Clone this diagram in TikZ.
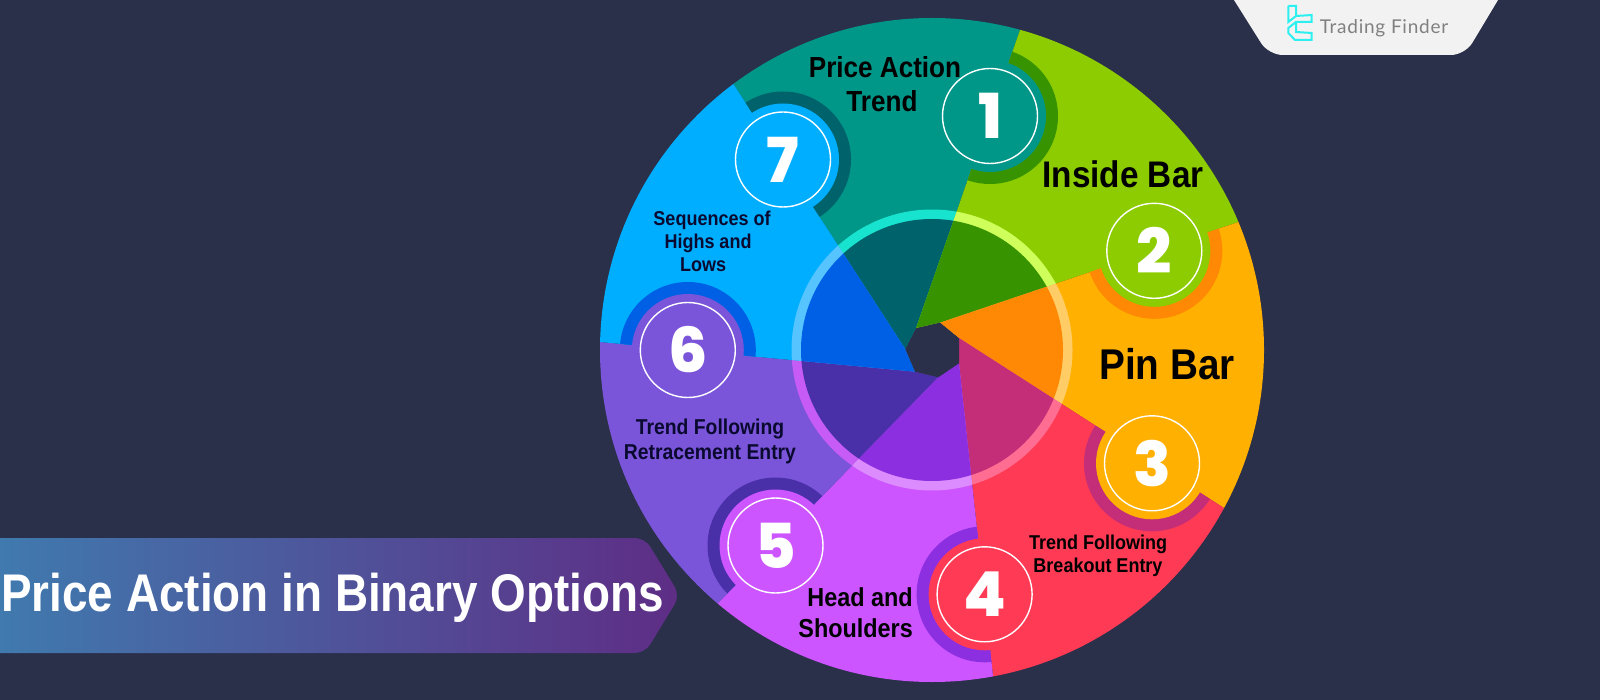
\documentclass[tikz,border=0pt]{standalone}
\usepackage{fontspec}
\setmainfont{Liberation Sans}[FakeStretch=0.9]
\newfontfamily\titlefont{Liberation Sans}[FakeStretch=0.865]
\newfontfamily\numfont{Poppins ExtraBold}
\newfontfamily\logofont{Lato}[LetterSpace=4]
\definecolor{bgc}{HTML}{2A2F4A}
\definecolor{navy}{HTML}{0A0A30}
\definecolor{cA}{HTML}{009688}\definecolor{cB}{HTML}{8CCC00}\definecolor{cC}{HTML}{FFB000}
\definecolor{cD}{HTML}{FF3A55}\definecolor{cE}{HTML}{CC55FF}\definecolor{cF}{HTML}{7B55D9}\definecolor{cG}{HTML}{00AEFF}
\definecolor{dA}{HTML}{00626B}\definecolor{dB}{HTML}{379400}\definecolor{dC}{HTML}{FF8804}
\definecolor{dD}{HTML}{C42E78}\definecolor{dE}{HTML}{8C2FE0}\definecolor{dF}{HTML}{4A30A8}\definecolor{dG}{HTML}{0060E5}
\definecolor{rA}{HTML}{17E3CE}\definecolor{rB}{HTML}{CFFF5A}\definecolor{rC}{HTML}{FFCC66}
\definecolor{rD}{HTML}{FF6E92}\definecolor{rE}{HTML}{DD8CFF}\definecolor{rF}{HTML}{C65BF5}\definecolor{rG}{HTML}{55C4FF}
\definecolor{logoc}{HTML}{2CF0F0}
\definecolor{banL}{HTML}{3F7CB0}\definecolor{banM}{HTML}{4E5498}\definecolor{banR}{HTML}{5E2D85}
\def\secA{(916,328)--(905.3,349)--(734,85)--(635,-47.5)--(1064,-130)--(1020,30)--cycle}
\def\secB{(940,322.7)--(916,328)--(1020,30)--(1064,-130)--(1392,158)--(1238.5,222)--cycle}
\def\secC{(959,338)--(940,322.7)--(1238.5,222)--(1392,158)--(1370,587)--(1224,508)--cycle}
\def\secD{(959,363)--(959,338)--(1224,508)--(1370,587)--(1023.5,839)--(993,676)--cycle}
\def\secE{(959,363)--(993,676)--(1023.5,839)--(611,729.5)--(718,603)--(938.3,377)--cycle}
\def\secF{(938.3,377)--(915,371.7)--(600,342)--(434,338)--(611,729.5)--(718,603)--cycle}
\def\secG{(915,371.7)--(905.3,349)--(734,85)--(635,-47.5)--(434,338)--(600,342)--cycle}
\newcommand{\allsecs}[1]{%
  \fill[#1A] \secA; \fill[#1B] \secB; \fill[#1C] \secC; \fill[#1D] \secD;
  \fill[#1E] \secE; \fill[#1F] \secF; \fill[#1G] \secG;}
% position, number, own colour, neighbour sector, arc colour, name
\newcommand{\badge}[6]{%
  \begin{scope}\clip #4; \fill[#5] #1 circle[radius=68]; \end{scope}
  \fill[#3] #1 circle[radius=56];
  \node[numbox,text=white] (#6) at #1 {\raisebox{-4pt}{#2}};}
\tikzset{
  numbox/.style={circle,draw=white,line width=1.4pt,minimum size=95pt,inner sep=0pt,font=\numfont\fontsize{62}{62}\selectfont},
  lab/.style={text=black,align=center,inner sep=0pt,font=\bfseries}
}
\begin{document}
\begin{tikzpicture}[x=1pt,y=-1pt]
\useasboundingbox (0,0) rectangle (1600,700);
\fill[bgc] (0,0) rectangle (1600,700);
% top-right tab
\fill[white!95!black,rounded corners=14pt] (1221.4,-20) -- (1268.6,55) -- (1465,55) -- (1510,-20) -- cycle;
\draw[logoc,line width=2pt,line join=miter] (1288.3,6) -- (1296,6) -- (1296,16) -- (1311.7,15) -- (1311.7,22) -- (1296,22) -- (1296,32) -- (1311.7,33) -- (1311.7,40) -- (1295,40) -- (1288.3,33) -- (1288.3,28) -- (1296,22);
\draw[logoc,line width=2pt,line join=miter] (1288.3,6) -- (1288.3,22) -- (1296,16);
\node[text=black!50,inner sep=0pt,font=\logofont\fontsize{19}{19}\selectfont] (logotext) at (1384,28) {Trading Finder};
% banner
\path[rounded corners=10pt,left color=banL,middle color=banM,right color=banR]
  (-20,538) -- (645,538) -- (680,595.5) -- (645,653) -- (-20,653) -- cycle;
\node[inner sep=0pt,text=white,font=\titlefont\bfseries\fontsize{53}{53}\selectfont] (title) at (332.5,598) {Price Action in Binary Options};
% wheel
\begin{scope}\clip (932,350) circle[radius=332]; \allsecs{c} \end{scope}
\begin{scope}\clip (932,350) circle[radius=140.5]; \allsecs{r} \end{scope}
\begin{scope}\clip (932,350) circle[radius=131]; \allsecs{d} \end{scope}
\fill[bgc] (916,328.3) -- (940,322.7) -- (959,338.3) -- (959,363.3) -- (938.3,377.3) -- (915,371.7) -- (905.3,349) -- cycle;
% badges
\badge{(990,116)}{1}{cA}{\secB}{dB}{n1}
\badge{(1154.3,250.8)}{2}{cB}{\secC}{dC}{n2}
\badge{(1152,463.3)}{3}{cC}{\secD}{dD}{n3}
\badge{(984.6,594.3)}{4}{cD}{\secE}{dE}{n4}
\badge{(775.5,545.5)}{5}{cE}{\secF}{dF}{n5}
\badge{(687.8,350)}{6}{cF}{\secG}{dG}{n6}
\badge{(783,159.5)}{7}{cG}{\secA}{dA}{n7}
% labels
\node[lab,font=\bfseries\fontsize{29}{34}\selectfont] (l1) at (885,84) {Price Action\\Trend\hspace*{6pt}};
\node[lab,font=\bfseries\fontsize{37}{37}\selectfont] (l2) at (1123,174) {Inside Bar};
\node[lab,font=\bfseries\fontsize{43}{43}\selectfont] (l3) at (1167,364) {Pin Bar};
\node[lab,font=\bfseries\fontsize{20}{23}\selectfont] (l4) at (1098,556) {Trend Following\\Breakout Entry};
\node[lab,align=right,font=\bfseries\fontsize{26}{31}\selectfont,anchor=east] (l5) at (913,612.5) {Head and\\Shoulders};
\node[lab,text=navy,font=\bfseries\fontsize{21.5}{25}\selectfont] (l6) at (710,441) {Trend Following\\Retracement Entry};
\node[lab,text=navy,font=\bfseries\fontsize{20}{23}\selectfont] (l7) at (708,241.5) {\hspace*{8pt}Sequences of\\Highs and\\Lows\hspace*{10pt}};
\end{tikzpicture}
\end{document}
